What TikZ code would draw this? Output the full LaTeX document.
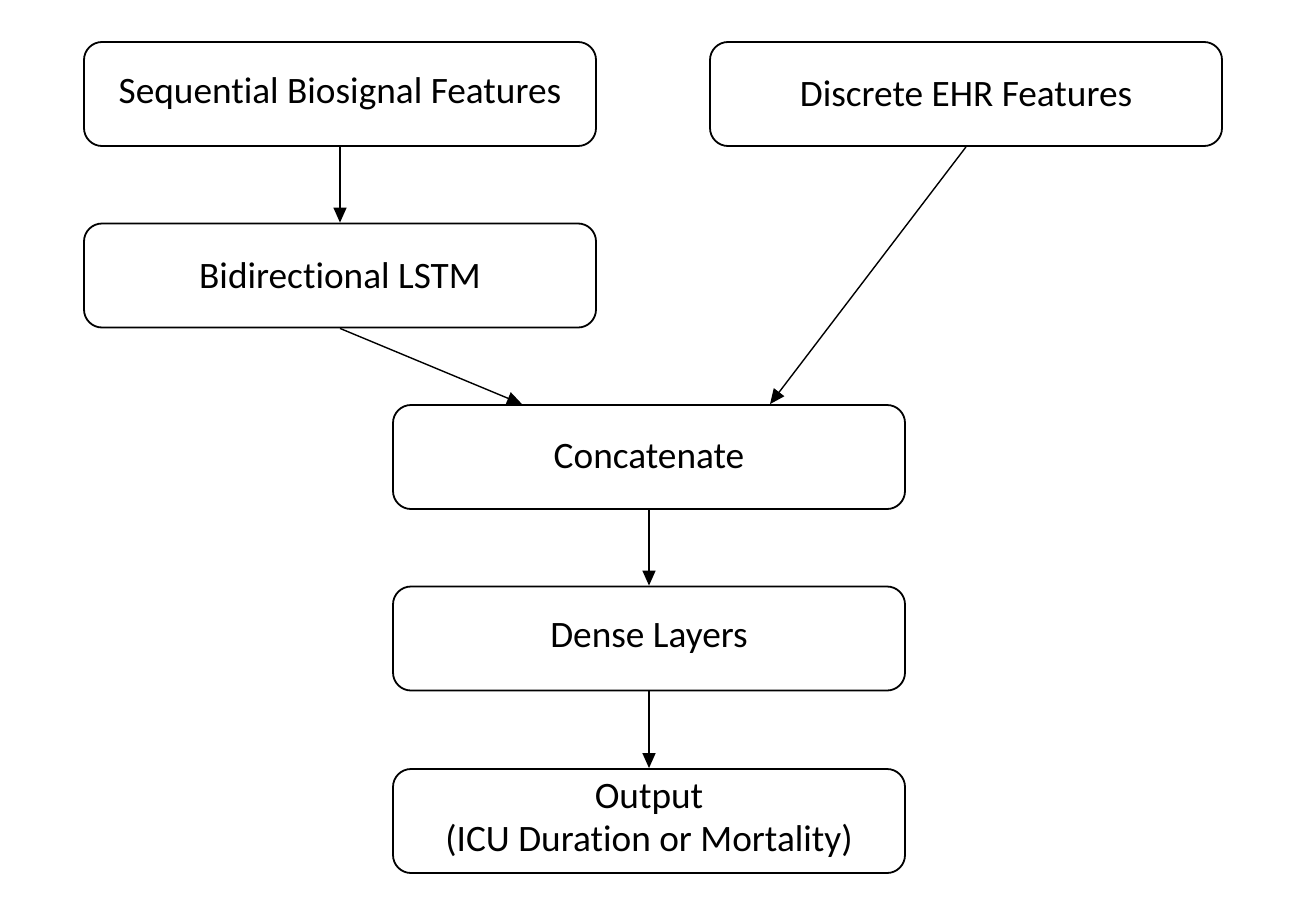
\documentclass[tikz,border=0pt]{standalone}
\usepackage{fontspec}
\setmainfont{Carlito}[Ligatures=NoCommon]
\usetikzlibrary{arrows.meta}
\begin{document}
\begin{tikzpicture}[x=1pt,y=-1pt,
  box/.style={draw, line width=1.8pt, rounded corners=18pt, minimum width=512pt, minimum height=104pt, inner sep=0pt, align=center, font=\fontsize{37.3}{43}\selectfont},
  conn/.style={line width=1.4pt, -{Triangle[length=15pt,width=13pt]}}]
\useasboundingbox (0,0) rectangle (1308,902);
\node[box] (seq) at (340,94) {Sequential Biosignal Features};
\node[box] (ehr) at (966,94) {Discrete EHR Features};
\node[box] (lstm) at (340,275.5) {Bidirectional LSTM};
\node[box] (concat) at (649,457) {Concatenate};
\node[box] (dense) at (649,638.5) {Dense Layers};
\node[box] (out) at (649,821) {Output\\(ICU Duration or Mortality)};
\draw[conn] (seq.south) -- (lstm.north);
\draw[conn] (lstm.south) -- ([xshift=-127pt]concat.north);
\draw[conn] (ehr.south) -- ([xshift=121pt]concat.north);
\draw[conn] (concat.south) -- (dense.north);
\draw[conn] (dense.south) -- (out.north);
\end{tikzpicture}
\end{document}
